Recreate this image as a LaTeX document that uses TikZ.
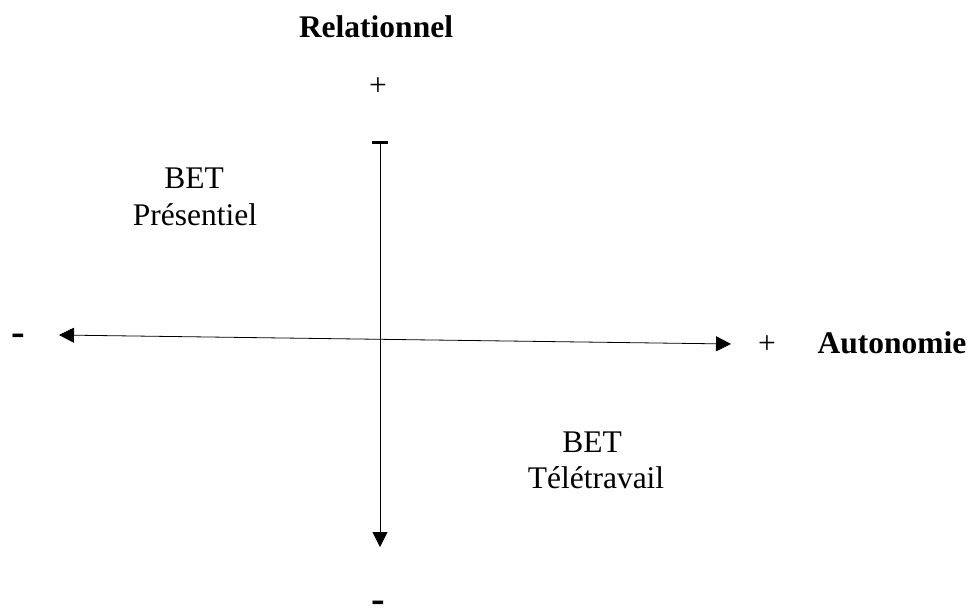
\documentclass[tikz,border=0pt]{standalone}
\usepackage{fontspec}
\setmainfont{Liberation Serif}
\usetikzlibrary{arrows.meta}
\begin{document}
\begin{tikzpicture}[x=1pt,y=-1pt,
  lbl/.style={inner sep=0pt,anchor=base,font=\fontsize{31.5}{37}\selectfont},
  blbl/.style={lbl,font=\fontsize{31.5}{37}\selectfont\bfseries},
  dsh/.style={lbl,font=\fontsize{41}{45}\selectfont\bfseries},
  axis/.style={line width=0.8pt}]
\useasboundingbox (0,0) rectangle (970,616);
% named axis end points
\coordinate (vt) at (380,141);
\coordinate (vb) at (380,547);
\coordinate (hl) at (59,335);
\coordinate (hr) at (731,344);
% axes
\draw[axis,{Bar[width=16pt,line width=2.5pt]}-{Triangle[length=15pt,width=15pt]}] (vt) -- (vb);
\draw[axis,{Triangle[length=15pt,width=15pt]}-{Triangle[length=15pt,width=15pt]}] (hl) -- (hr);
% labels
\node[blbl] (rel) at (376,37) {Relationnel};
\node[lbl] (ptop) at (378,95) {+};
\node[dsh] (mleft) at (18,345) {-};
\node[lbl] (pright) at (767,353) {+};
\node[blbl] (auto) at (892,353) {Autonomie};
\node[dsh] (mbot) at (378,612) {-};
\node[lbl] (bet1) at (194,188) {BET};
\node[lbl] (pres) at (195,225) {Présentiel};
\node[lbl] (bet2) at (592,452) {BET};
\node[lbl] (tele) at (596,488) {Télétravail};
\end{tikzpicture}
\end{document}
